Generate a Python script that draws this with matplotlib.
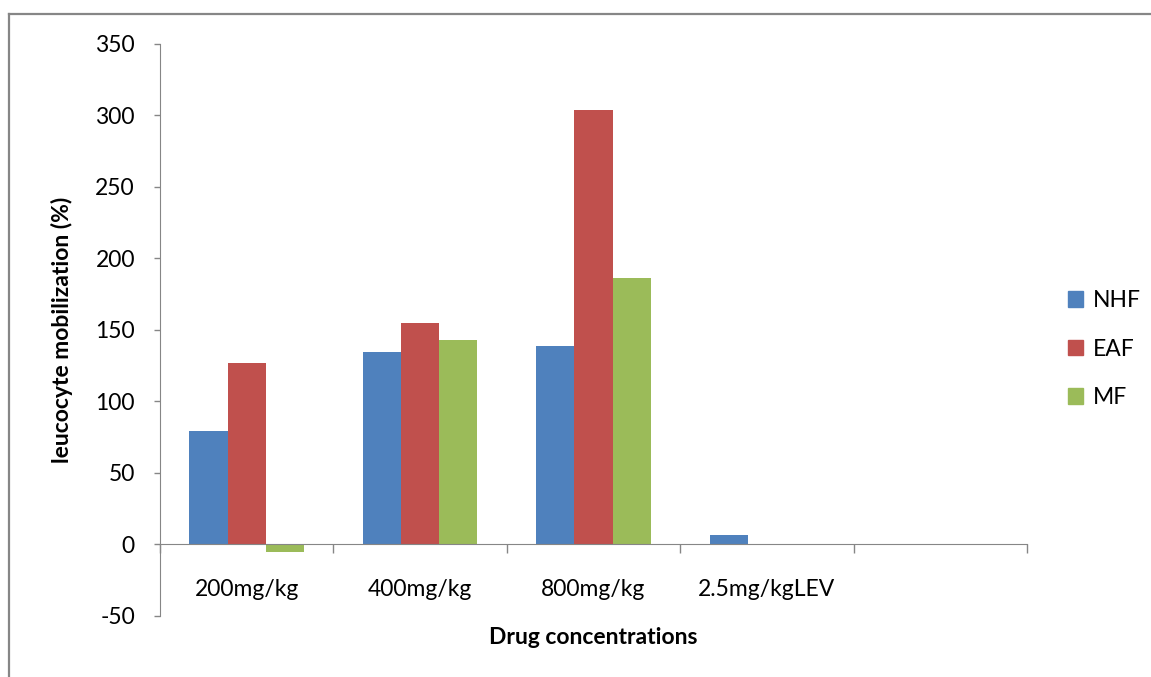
import numpy as np
import matplotlib.pyplot as plt
from matplotlib.lines import Line2D
from matplotlib.patches import Patch

plt.rcParams['font.family'] = ['Lato', 'DejaVu Sans']

# data
categories = ['200mg/kg', '400mg/kg', '800mg/kg', '2.5mg/kgLEV', '']
series_names = ['NHF', 'EAF', 'MF']
nhf = [79, 134.5, 138.5, 6.3, 0]
eaf = [126.5, 154.5, 303.5, 0, 0]
mf = [-5.6, 142.8, 186.3, 0, 0]
colors = ['#4F81BD', '#C0504D', '#9BBB59']
yticks = [-50, 0, 50, 100, 150, 200, 250, 300, 350]

W, H = 1151, 677
fig = plt.figure(figsize=(W / 100, H / 100), dpi=100)
ax = fig.add_axes([160 / W, 1 - 615.5 / H, (1027 - 160) / W, (615.5 - 44) / H])

grey = '#868686'
fs = 16.5
x = np.arange(len(categories))
bw = 0.22
for i, (vals, c) in enumerate(zip([nhf, eaf, mf], colors)):
    ax.bar(x + (i - 1) * bw, vals, bw, color=c, linewidth=0)

ax.set_xlim(-0.5, len(categories) - 0.5)
ax.set_ylim(-50, 350)
ax.set_yticks(yticks)
ax.set_yticklabels([str(v) for v in yticks], fontsize=fs)
ax.tick_params(axis='y', length=4, color=grey, width=1, pad=14)

# x axis sits on zero
for s in ['top', 'right']:
    ax.spines[s].set_visible(False)
ax.spines['bottom'].set_position(('data', 0))
ax.spines['bottom'].set_color(grey)
ax.spines['left'].set_color(grey)
ax.set_xticks(x)
ax.set_xticklabels(categories, fontsize=fs)
ax.set_xticks(np.arange(len(categories) + 1) - 0.5, minor=True)
ax.tick_params(axis='x', which='major', length=0, pad=25)
ax.tick_params(axis='x', which='minor', length=6.5, color=grey, width=1)

ax.set_ylabel('leucocyte mobilization (%)', fontsize=fs, fontweight='bold', labelpad=16)
ax.set_xlabel('Drug concentrations', fontsize=fs, fontweight='bold')
ax.xaxis.set_label_coords(0.5, -(11 / (615.5 - 44)))

handles = [Patch(color=c) for c in colors]
fig.legend(handles, series_names, loc='center left', bbox_to_anchor=(1068 / W, 1 - 349 / H),
           frameon=False, fontsize=fs, handlelength=0.65, handleheight=0.65,
           handletextpad=0.45, labelspacing=1.2, borderpad=0, borderaxespad=0)

# outer chart frame
fig.add_artist(Line2D([9 / W, 1], [1 - 14 / H, 1 - 14 / H], color=grey, lw=1.6))
fig.add_artist(Line2D([9 / W, 9 / W], [0, 1 - 14 / H], color=grey, lw=1.6))

fig.savefig('out.png', dpi=100)
